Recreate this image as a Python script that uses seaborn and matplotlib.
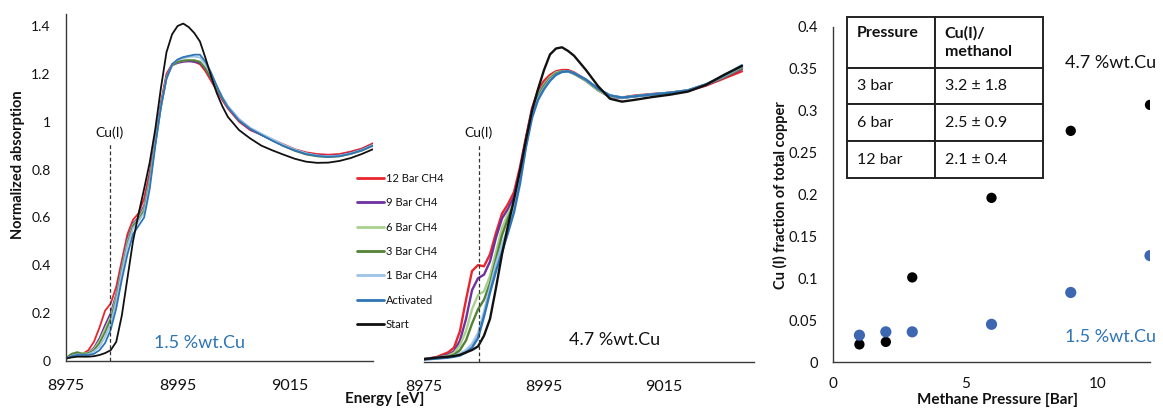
import matplotlib
matplotlib.use("Agg")
import matplotlib.pyplot as plt
import seaborn as sns
import pandas as pd

# ---------------- data ----------------
series_names = ["12 Bar CH4", "9 Bar CH4", "6 Bar CH4", "3 Bar CH4", "1 Bar CH4", "Activated", "Start"]
series_colors = ["#e8262b", "#7030a0", "#a9d18e", "#548235", "#9dc3e6", "#2e75b6", "#111111"]

# panel 1: 1.5 %wt.Cu
energy_a = [8975, 8976, 8977, 8978, 8979, 8980, 8981, 8982, 8983, 8984, 8985, 8986, 8987, 8988, 8989,
            8990, 8991, 8992, 8993, 8994, 8995, 8996, 8997, 8998, 8999, 9000, 9001, 9002, 9003, 9004,
            9006, 9008, 9010, 9012, 9014, 9016, 9018, 9020, 9022, 9024, 9026, 9028, 9030]
a_12 = [0.010, 0.025, 0.030, 0.030, 0.045, 0.080, 0.140, 0.210, 0.240, 0.310, 0.420, 0.530, 0.590, 0.617, 0.680,
        0.790, 0.930, 1.080, 1.200, 1.240, 1.250, 1.255, 1.255, 1.250, 1.240, 1.210, 1.170, 1.130, 1.090, 1.055,
        1.000, 0.965, 0.945, 0.925, 0.905, 0.885, 0.872, 0.865, 0.862, 0.865, 0.875, 0.888, 0.910]
a_9 = [0.010, 0.025, 0.030, 0.028, 0.035, 0.055, 0.095, 0.150, 0.200, 0.280, 0.400, 0.510, 0.575, 0.600, 0.650,
       0.770, 0.920, 1.070, 1.190, 1.235, 1.245, 1.250, 1.252, 1.250, 1.245, 1.220, 1.180, 1.135, 1.095, 1.060,
       1.005, 0.968, 0.945, 0.922, 0.900, 0.882, 0.868, 0.860, 0.857, 0.860, 0.870, 0.884, 0.905]
a_6 = [0.012, 0.030, 0.038, 0.032, 0.035, 0.050, 0.085, 0.135, 0.185, 0.270, 0.390, 0.500, 0.570, 0.595, 0.640,
       0.760, 0.915, 1.065, 1.185, 1.235, 1.250, 1.255, 1.258, 1.258, 1.252, 1.225, 1.185, 1.140, 1.098, 1.062,
       1.008, 0.972, 0.948, 0.925, 0.902, 0.882, 0.867, 0.858, 0.855, 0.858, 0.868, 0.882, 0.903]
a_3 = [0.012, 0.030, 0.036, 0.030, 0.033, 0.045, 0.075, 0.120, 0.175, 0.260, 0.380, 0.490, 0.565, 0.590, 0.630,
       0.750, 0.910, 1.060, 1.180, 1.235, 1.250, 1.255, 1.257, 1.256, 1.250, 1.222, 1.183, 1.140, 1.100, 1.065,
       1.010, 0.972, 0.945, 0.922, 0.898, 0.878, 0.863, 0.855, 0.852, 0.855, 0.865, 0.879, 0.900]
a_1 = [0.010, 0.022, 0.028, 0.026, 0.028, 0.040, 0.060, 0.100, 0.155, 0.250, 0.370, 0.480, 0.555, 0.585, 0.620,
       0.740, 0.905, 1.060, 1.180, 1.240, 1.258, 1.265, 1.270, 1.272, 1.268, 1.238, 1.195, 1.148, 1.104, 1.066,
       1.012, 0.975, 0.950, 0.927, 0.903, 0.884, 0.868, 0.859, 0.855, 0.858, 0.867, 0.881, 0.902]
a_act = [0.010, 0.020, 0.025, 0.025, 0.025, 0.030, 0.045, 0.075, 0.130, 0.220, 0.340, 0.445, 0.530, 0.565, 0.600,
         0.720, 0.900, 1.060, 1.180, 1.240, 1.260, 1.270, 1.275, 1.280, 1.280, 1.250, 1.205, 1.150, 1.100, 1.060,
         1.005, 0.970, 0.945, 0.920, 0.898, 0.880, 0.865, 0.857, 0.853, 0.856, 0.866, 0.880, 0.900]
a_start = [0.010, 0.015, 0.018, 0.018, 0.018, 0.020, 0.025, 0.033, 0.045, 0.080, 0.190, 0.345, 0.500, 0.615, 0.720,
           0.830, 0.970, 1.140, 1.290, 1.365, 1.400, 1.410, 1.395, 1.370, 1.335, 1.265, 1.190, 1.120, 1.065, 1.020,
           0.965, 0.930, 0.900, 0.880, 0.862, 0.845, 0.833, 0.828, 0.829, 0.836, 0.848, 0.865, 0.885]

# panel 2: 4.7 %wt.Cu
energy_b = [8975, 8977, 8979, 8980, 8981, 8982, 8983, 8984, 8985, 8986, 8987, 8988, 8989, 8990, 8991, 8992,
            8993, 8994, 8995, 8996, 8997, 8998, 8999, 9000, 9002, 9004, 9006, 9008, 9010, 9013, 9016, 9019,
            9022, 9025, 9028]
b_12 = [0.012, 0.020, 0.040, 0.060, 0.130, 0.260, 0.380, 0.405, 0.400, 0.450, 0.540, 0.620, 0.660, 0.710, 0.815, 0.940,
        1.060, 1.135, 1.175, 1.200, 1.215, 1.220, 1.220, 1.210, 1.180, 1.140, 1.110, 1.105, 1.113, 1.120, 1.125, 1.133,
        1.155, 1.185, 1.215]
b_9 = [0.012, 0.018, 0.030, 0.045, 0.090, 0.180, 0.300, 0.350, 0.365, 0.420, 0.520, 0.600, 0.640, 0.690, 0.800, 0.930,
       1.050, 1.120, 1.160, 1.190, 1.210, 1.215, 1.215, 1.205, 1.175, 1.135, 1.108, 1.103, 1.110, 1.118, 1.125, 1.135,
       1.158, 1.190, 1.225]
b_6 = [0.012, 0.017, 0.026, 0.038, 0.070, 0.130, 0.220, 0.280, 0.295, 0.360, 0.460, 0.560, 0.620, 0.670, 0.785, 0.920,
       1.045, 1.115, 1.160, 1.190, 1.210, 1.215, 1.215, 1.205, 1.175, 1.135, 1.110, 1.104, 1.110, 1.118, 1.125, 1.135,
       1.160, 1.192, 1.230]
b_3 = [0.012, 0.016, 0.022, 0.030, 0.050, 0.090, 0.160, 0.220, 0.260, 0.330, 0.430, 0.530, 0.600, 0.660, 0.775, 0.910,
       1.040, 1.110, 1.155, 1.185, 1.205, 1.215, 1.215, 1.205, 1.178, 1.140, 1.113, 1.105, 1.110, 1.118, 1.125, 1.135,
       1.160, 1.192, 1.230]
b_1 = [0.012, 0.015, 0.020, 0.025, 0.035, 0.050, 0.075, 0.120, 0.210, 0.310, 0.410, 0.490, 0.560, 0.640, 0.760, 0.900,
       1.030, 1.100, 1.145, 1.180, 1.200, 1.213, 1.215, 1.207, 1.180, 1.142, 1.114, 1.105, 1.110, 1.118, 1.125, 1.135,
       1.160, 1.195, 1.235]
b_act = [0.010, 0.014, 0.018, 0.022, 0.027, 0.040, 0.060, 0.100, 0.190, 0.290, 0.380, 0.460, 0.540, 0.625, 0.745, 0.900,
         1.020, 1.095, 1.140, 1.175, 1.200, 1.212, 1.215, 1.207, 1.180, 1.142, 1.114, 1.105, 1.110, 1.118, 1.125, 1.135,
         1.160, 1.197, 1.240]
b_start = [0.012, 0.018, 0.022, 0.025, 0.030, 0.040, 0.050, 0.065, 0.110, 0.180, 0.310, 0.450, 0.570, 0.680, 0.800, 0.930,
           1.050, 1.140, 1.220, 1.285, 1.310, 1.315, 1.300, 1.280, 1.220, 1.153, 1.100, 1.088, 1.095, 1.107, 1.117, 1.130,
           1.158, 1.200, 1.237]

# panel 3: Cu(I) fraction vs methane pressure
pressure = [1, 2, 3, 6, 9, 12]
frac_47 = [0.021, 0.024, 0.101, 0.196, 0.276, 0.307]
frac_15 = [0.032, 0.036, 0.036, 0.045, 0.083, 0.127]

table_header = ["Pressure\n ", "Cu(I)/\nmethanol"]
table_pressure = ["3 bar", "6 bar", "12 bar"]
table_ratio = ["3.2 \u00b1 1.8", "2.5 \u00b1 0.9", "2.1 \u00b1 0.4"]

cu1_energy_a = 8982.8
cu1_energy_b = 8984.1

# ---------------- style ----------------
sns.set_style("white")
plt.rcParams["font.family"] = ["Lato", "DejaVu Sans"]
plt.rcParams["text.color"] = "#111111"

W, H = 1163, 409
fig = plt.figure(figsize=(W / 100, H / 100), dpi=100)


def rect(x0, y_top, x1, y_bot):
    return [x0 / W, 1 - y_bot / H, (x1 - x0) / W, (y_bot - y_top) / H]


ax1 = fig.add_axes(rect(66, 14, 373, 361))
ax2 = fig.add_axes(rect(424, 15, 754, 362))
ax3 = fig.add_axes(rect(833, 27, 1150, 362))

spine_col = "#3a3a3a"


def plot_panel(ax, energy, series, lw):
    for name, col, vals in zip(series_names, series_colors, series):
        df = pd.DataFrame({"E": energy, "mu": vals})
        sns.lineplot(data=df, x="E", y="mu", ax=ax, color=col, lw=lw, label=name,
                     sort=False, estimator=None)
    if ax.get_legend() is not None:
        ax.get_legend().remove()
    ax.set_xlim(8975, 9030)
    ax.set_ylim(0, 1.45)
    ax.set_xticks([8975, 8995, 9015])
    ax.set_xlabel("")
    ax.set_ylabel("")
    ax.tick_params(axis="x", length=0, labelsize=11.5, pad=13, colors="#111111")
    ax.tick_params(axis="y", length=0, labelsize=10, pad=11, colors="#111111")
    for s in ["top", "right"]:
        ax.spines[s].set_visible(False)
    for s in ["bottom", "left"]:
        ax.spines[s].set_color(spine_col)
        ax.spines[s].set_linewidth(1.0)


plot_panel(ax1, energy_a, [a_12, a_9, a_6, a_3, a_1, a_act, a_start], 1.3)
plot_panel(ax2, energy_b, [b_12, b_9, b_6, b_3, b_1, b_act, b_start], 1.7)

ax1.set_yticks([0, 0.2, 0.4, 0.6, 0.8, 1.0, 1.2, 1.4])
ax1.set_yticklabels(["0", "0.2", "0.4", "0.6", "0.8", "1", "1.2", "1.4"])
ax2.set_yticks([])
ax2.spines["left"].set_visible(False)

# Cu(I) markers
ax1.plot([cu1_energy_a, cu1_energy_a], [0, 0.91], ls=(0, (3, 2)), color="#333333", lw=0.9)
ax1.text(cu1_energy_a, 0.955, "Cu(I)", ha="center", va="center", fontsize=10)
ax2.plot([cu1_energy_b, cu1_energy_b], [0, 0.91], ls=(0, (3, 2)), color="#333333", lw=0.9)
ax2.text(cu1_energy_b, 0.96, "Cu(I)", ha="center", va="center", fontsize=10)

ax1.text(8999, 0.075, "1.5 %wt.Cu", color="#2e75b6", fontsize=13, ha="center", va="center")
ax2.text(9006.75, 0.092, "4.7 %wt.Cu", color="#111111", fontsize=13, ha="center", va="center")

# legend
handles, labels = ax1.get_legend_handles_labels()
leg = fig.legend(handles, labels, loc="upper left", bbox_to_anchor=(357 / W, 1 - 173 / H),
                 frameon=False, fontsize=8, handlelength=2.45, handletextpad=0.15,
                 labelspacing=1.2, borderpad=0, borderaxespad=0)
for lh in leg.get_lines():
    lh.set_linewidth(2.0)

fig.text(18 / W, 1 - 165 / H, "Normalized absorption", rotation=90, ha="center", va="center",
         fontsize=10.5, fontweight="bold")
fig.text(385 / W, 1 - 399 / H, "Energy [eV]", ha="center", va="center", fontsize=11, fontweight="bold")

# panel 3 scatter
sns.scatterplot(x=pressure, y=frac_47, ax=ax3, color="#000000", s=55, edgecolor="none", zorder=3)
sns.scatterplot(x=pressure, y=frac_15, ax=ax3, color="#3d67b1", s=65, edgecolor="none", zorder=3)
ax3.set_xlim(0, 12)
ax3.set_ylim(0, 0.4)
ax3.set_xticks([0, 5, 10])
ax3.set_yticks([0, 0.05, 0.1, 0.15, 0.2, 0.25, 0.3, 0.35, 0.4])
ax3.set_yticklabels(["0", "0.05", "0.1", "0.15", "0.2", "0.25", "0.3", "0.35", "0.4"])
ax3.tick_params(axis="x", length=0, labelsize=11, pad=11, colors="#111111")
ax3.tick_params(axis="y", length=0, labelsize=10.5, pad=11, colors="#111111")
for s in ["top", "right"]:
    ax3.spines[s].set_visible(False)
for s in ["bottom", "left"]:
    ax3.spines[s].set_color(spine_col)
    ax3.spines[s].set_linewidth(1.0)

ax3.text(10.5, 0.357, "4.7 %wt.Cu", color="#111111", fontsize=13, ha="center", va="center")
ax3.text(10.5, 0.030, "1.5 %wt.Cu", color="#2e75b6", fontsize=13, ha="center", va="center")

fig.text(780 / W, 1 - 195 / H, "Cu (I) fraction of total copper", rotation=90, ha="center", va="center",
         fontsize=10.5, fontweight="bold")
fig.text(998 / W, 1 - 400 / H, "Methane Pressure [Bar]", ha="center", va="center", fontsize=11,
         fontweight="bold")

# table
cell_text = [[p, r] for p, r in zip(table_pressure, table_ratio)]
tbl = ax3.table(cellText=cell_text, colLabels=table_header, cellLoc="left", colLoc="left",
                colWidths=[88, 108], bbox=[(847 - 833) / 317, (362 - 178) / 335, 196 / 317, 161 / 335])
tbl.auto_set_font_size(False)
tbl.set_fontsize(11.5)
for (r, c), cell in tbl.get_celld().items():
    cell.set_edgecolor("#222222")
    cell.set_linewidth(1.4)
    cell.set_facecolor("white")
    cell.PAD = 0.11 if c == 0 else 0.09
    cell.set_height(51 if r == 0 else 37)
    t = cell.get_text()
    t.set_linespacing(1.35)
    t.set_multialignment("left")
    t.set_horizontalalignment("left")
    if r == 0:
        t.set_fontweight("bold")

fig.savefig("out.png", dpi=100)
